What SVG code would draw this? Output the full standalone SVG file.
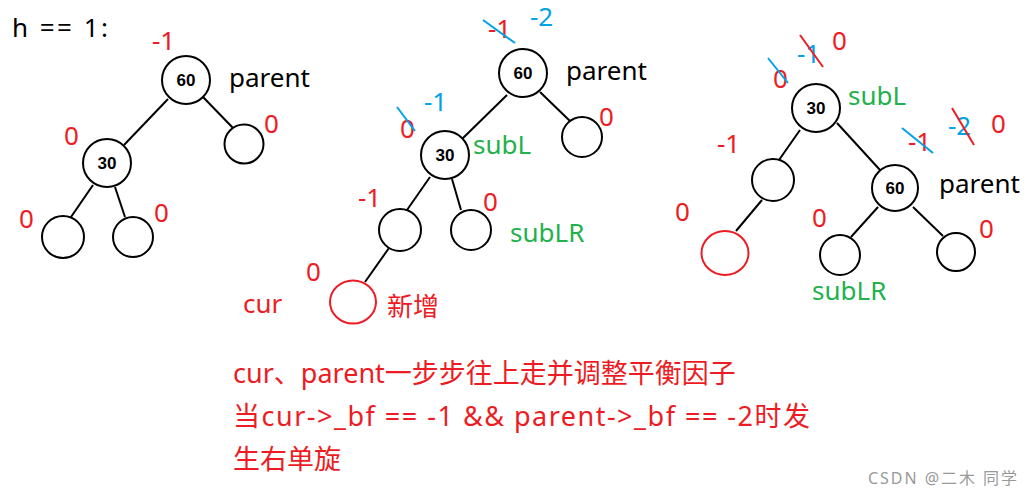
<svg xmlns="http://www.w3.org/2000/svg" width="1035" height="497" viewBox="0 0 1035 497">
<style>
text{font-family:"Noto Sans","Noto Sans CJK SC",sans-serif;font-size:26px}
.n{fill:#fff;stroke:#000;stroke-width:2}
.nr{fill:#fff;stroke:#ED1C24;stroke-width:2}
.v{font-family:"Liberation Sans",Arial,sans-serif;font-weight:bold;font-size:17px;text-anchor:middle;fill:#000}
.r{fill:#ED1C24}
.b{fill:#00A2E8}
.g{fill:#22B14C}
.k{fill:#000}
.e line{stroke:#000;stroke-width:2}
.sb{stroke:#00A2E8;stroke-width:2}
.sr{stroke:#ED1C24;stroke-width:2}
.note{font-size:27px;fill:#ED1C24}
</style>
<rect width="1035" height="497" fill="#fff"/>
<g id="connectors" class="e">
<line x1="168" y1="99" x2="124" y2="145"/>
<line x1="203" y1="97" x2="233" y2="128"/>
<line x1="93" y1="185" x2="71" y2="217"/>
<line x1="115" y1="187" x2="125" y2="217"/>
<line x1="507" y1="95" x2="461" y2="140"/>
<line x1="540" y1="92" x2="571" y2="122"/>
<line x1="430" y1="177" x2="407" y2="210"/>
<line x1="452" y1="179" x2="461" y2="210"/>
<line x1="389" y1="248" x2="365" y2="282"/>
<line x1="800" y1="130" x2="779" y2="160"/>
<line x1="837" y1="123" x2="880" y2="170"/>
<line x1="762" y1="200" x2="736" y2="231"/>
<line x1="878" y1="207" x2="851" y2="237"/>
<line x1="913" y1="207" x2="943" y2="236"/>
</g>
<text x="12" y="37" class="k" textLength="96" lengthAdjust="spacing">h == 1:</text>
<g id="t1-60"><circle class="n" cx="186" cy="80" r="24"/><text class="v" x="186" y="86">60</text></g>
<g id="t1-30"><circle class="n" cx="107" cy="163" r="24"/><text class="v" x="107" y="169">30</text></g>
<g id="t1-r"><circle class="n" cx="244" cy="144" r="19.5"/></g>
<g id="t1-ll"><circle class="n" cx="63" cy="237" r="21"/></g>
<g id="t1-lr"><circle class="n" cx="133" cy="237" r="20"/></g>
<g id="t2-60"><circle class="n" cx="523" cy="73" r="24"/><text class="v" x="523" y="79">60</text></g>
<g id="t2-30"><circle class="n" cx="445" cy="155" r="24"/><text class="v" x="445" y="161">30</text></g>
<g id="t2-r"><circle class="n" cx="582" cy="137" r="20"/></g>
<g id="t2-ll"><circle class="n" cx="400" cy="230" r="21"/></g>
<g id="t2-lr"><circle class="n" cx="471" cy="230" r="20"/></g>
<g id="t2-new"><ellipse class="nr" cx="353" cy="302" rx="23" ry="21.5"/></g>
<g id="t3-30"><circle class="n" cx="816" cy="108" r="24"/><text class="v" x="816" y="114">30</text></g>
<g id="t3-60"><circle class="n" cx="895" cy="188" r="23"/><text class="v" x="895" y="194">60</text></g>
<g id="t3-l"><circle class="n" cx="773" cy="180" r="21"/></g>
<g id="t3-new"><ellipse class="nr" cx="725" cy="253" rx="23.5" ry="22"/></g>
<g id="t3-rl"><circle class="n" cx="840" cy="255" r="20"/></g>
<g id="t3-rr"><circle class="n" cx="956" cy="252" r="19"/></g>
<g id="labels">
<text x="152" y="50" class="r">-1</text>
<text x="229" y="87" class="k">parent</text>
<text x="64" y="145" class="r">0</text>
<text x="264" y="133" class="r">0</text>
<text x="19" y="228" class="r">0</text>
<text x="154" y="222" class="r">0</text>

<text x="488" y="38" class="r">-1</text>
<line class="sb" x1="483" y1="20" x2="515" y2="43"/>
<text x="530" y="26" class="b">-2</text>
<text x="566" y="80" class="k">parent</text>
<text x="599" y="126" class="r">0</text>
<text x="424" y="111" class="b">-1</text>
<text x="400" y="138" class="r">0</text>
<line class="sb" x1="397" y1="107" x2="415" y2="131"/>
<text x="473" y="154" class="g">subL</text>
<text x="358" y="207" class="r">-1</text>
<text x="483" y="211" class="r">0</text>
<text x="510" y="242" class="g">subLR</text>
<text x="306" y="281" class="r">0</text>
<text x="387" y="316" class="r">新增</text>
<text x="243" y="313" class="r">cur</text>

<text x="773" y="88" class="r">0</text>
<line class="sb" x1="768" y1="58" x2="788" y2="83"/>
<text x="797" y="63" class="b">-1</text>
<line class="sr" x1="800" y1="35" x2="823" y2="67"/>
<text x="832" y="50" class="r">0</text>
<text x="848" y="105" class="g">subL</text>
<text x="717" y="153" class="r">-1</text>
<text x="939" y="193" class="k">parent</text>
<text x="908" y="151" class="r">-1</text>
<line class="sb" x1="902" y1="128" x2="933" y2="153"/>
<text x="948" y="135" class="b">-2</text>
<line class="sr" x1="952" y1="108" x2="974" y2="145"/>
<text x="991" y="133" class="r">0</text>
<text x="675" y="221" class="r">0</text>
<text x="812" y="227" class="r">0</text>
<text x="979" y="238" class="r">0</text>
<text x="812" y="300" class="g">subLR</text>
</g>
<g id="note">
<text x="233" y="383" class="note">cur、parent一步步往上走并调整平衡因子</text>
<text x="233" y="426" class="note" textLength="577" lengthAdjust="spacing">当cur-&gt;_bf == -1 &amp;&amp; parent-&gt;_bf == -2时发</text>
<text x="233" y="469" class="note">生右单旋</text>
</g>
<text x="868" y="484" style="font-size:16px;fill:#999" textLength="149" lengthAdjust="spacing">CSDN @二木 同学</text>
</svg>
